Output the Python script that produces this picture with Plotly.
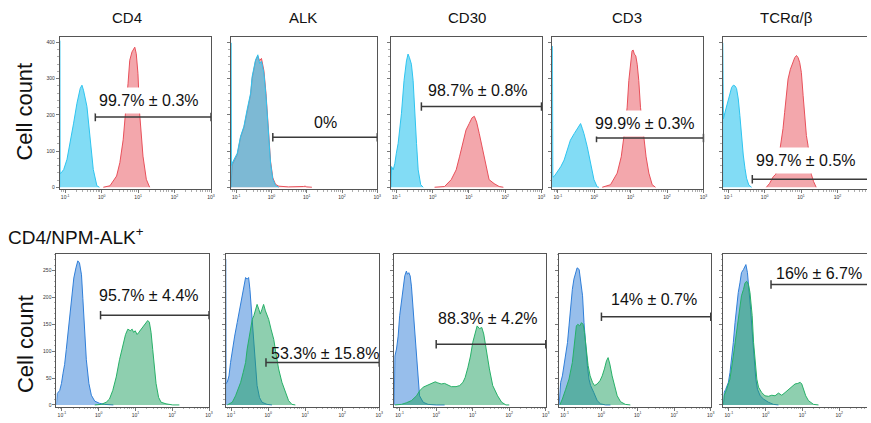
import plotly.graph_objects as go

W, H = 871, 423

# ---------------- data (fluorescence intensity, cell count) ----------------
markers = ["CD4", "ALK", "CD30", "CD3", "TCRα/β"]
row2_label = "CD4/NPM-ALK<sup>+</sup>"
y_title = "Cell count"

top_pct = ["99.7% ± 0.3%", "0%", "98.7% ± 0.8%", "99.9% ± 0.3%", "99.7% ± 0.5%"]
bot_pct = ["95.7% ± 4.4%", "53.3% ± 15.8%", "88.3% ± 4.2%", "14% ± 0.7%", "16% ± 6.7%"]

# gate start (intensity) and drawing level (count)
top_gate_start = [0.67, 1.09, 0.49, 1.15, 0.46]
top_gate_level = [194, 138, 223, 136, 22]
bot_gate_start = [1.12, 0.87, 1.0, 1.02, 1.40]
bot_gate_level = [167, 79, 113, 164, 224]
gate_end = 1000

# --- top row: control (cyan) / stained (red)
cd4_t_ctrl_x = [0.0708, 0.0708, 0.072, 0.078, 0.091, 0.112, 0.138, 0.170, 0.210, 0.258, 0.288, 0.318, 0.395, 0.48, 0.59, 0.74, 0.87]
cd4_t_ctrl_y = [0, 405, 38, 40, 49, 77, 122, 177, 232, 273, 282, 268, 223, 132, 49, 4, 0]
cd4_t_pos_x = [1.11, 1.69, 2.57, 3.16, 3.89, 4.6, 5.3, 5.9, 6.8, 8.1, 8.9, 9.9, 11, 13.6, 16.8, 20.7]
cd4_t_pos_y = [0, 4, 31, 68, 131, 205, 287, 351, 374, 387, 369, 314, 205, 86, 22, 0]

alk_t_ctrl_x = [0.0708, 0.0708, 0.0725, 0.077, 0.107, 0.133, 0.165, 0.204, 0.256, 0.283, 0.316, 0.354, 0.41, 0.46, 0.52, 0.61, 0.70, 0.80, 0.94, 1.09, 1.30, 1.61]
alk_t_ctrl_y = [0, 399, 60, 67, 94, 141, 168, 215, 260, 306, 334, 352, 366, 342, 348, 315, 251, 159, 67, 22, 5, 0]
alk_t_pos_x = [0.0708, 0.077, 0.107, 0.133, 0.165, 0.204, 0.256, 0.283, 0.316, 0.354, 0.41, 0.46, 0.52, 0.61, 0.70, 0.80, 0.94, 1.09, 1.30, 1.61, 2.2, 3.0, 8.0, 9.0, 10.0, 14]
alk_t_pos_y = [0, 62, 90, 138, 165, 210, 255, 300, 330, 350, 362, 350, 356, 322, 258, 165, 72, 26, 8, 3, 2, 1, 2, 3, 1, 0]

cd30_t_ctrl_x = [0.0708, 0.074, 0.082, 0.091, 0.10, 0.112, 0.138, 0.163, 0.19, 0.21, 0.23, 0.26, 0.29, 0.32, 0.36, 0.40, 0.47, 0.55]
cd30_t_ctrl_y = [0, 57, 48, 66, 94, 121, 203, 295, 349, 368, 358, 340, 295, 203, 121, 48, 7, 0]
cd30_t_pos_x = [1.13, 2.13, 3.25, 4.45, 5.5, 6.8, 8.3, 10.2, 12.2, 14.1, 16.3, 19.3, 23.8, 29.4, 36, 49.5, 68, 89]
cd30_t_pos_y = [0, 2, 21, 48, 84, 121, 158, 176, 192, 196, 180, 148, 103, 57, 21, 10, 2, 0]

cd3_t_ctrl_x = [0.0708, 0.0708, 0.0725, 0.079, 0.098, 0.12, 0.148, 0.18, 0.22, 0.28, 0.34, 0.42, 0.47, 0.52, 0.64, 0.79, 0.98, 1.2, 1.34]
cd3_t_ctrl_y = [0, 390, 28, 30, 43, 57, 75, 103, 130, 148, 162, 176, 162, 148, 112, 66, 21, 1, 0]
cd3_t_pos_x = [1.65, 2.79, 4.26, 5.5, 6.5, 8.0, 8.9, 9.8, 10.9, 11.7, 12.6, 13.8, 15.1, 16.7, 18.6, 23, 26.5, 31.6, 39, 48]
cd3_t_pos_y = [0, 7, 39, 84, 139, 221, 295, 340, 377, 379, 368, 363, 340, 295, 221, 139, 84, 39, 7, 0]

tcr_t_ctrl_x = [0.0708, 0.0708, 0.072, 0.074, 0.082, 0.091, 0.10, 0.112, 0.125, 0.139, 0.154, 0.17, 0.19, 0.21, 0.23, 0.26, 0.29, 0.32, 0.37, 0.44]
tcr_t_ctrl_y = [0, 399, 185, 189, 207, 226, 244, 262, 276, 282, 280, 273, 244, 198, 143, 89, 52, 25, 6, 0]
tcr_t_pos_x = [1.12, 1.38, 1.72, 2.03, 2.35, 2.76, 3.2, 3.55, 3.95, 4.4, 5.1, 5.8, 6.7, 7.5, 8.3, 9.2, 10.2, 11.4, 12.6, 14, 15.5, 17.2, 19.1, 22, 26]
tcr_t_pos_y = [0, 11, 29, 36, 70, 116, 162, 207, 253, 299, 326, 344, 358, 364, 358, 344, 317, 253, 189, 143, 116, 70, 36, 16, 0]

# --- bottom row: control (blue) / stained (green)
cd4_b_ctrl_x = [0.0708, 0.074, 0.087, 0.097, 0.107, 0.118, 0.131, 0.155, 0.18, 0.21, 0.24, 0.27, 0.30, 0.34, 0.37, 0.41, 0.46, 0.54, 0.63, 0.78, 1.05, 1.44, 1.96, 2.5]
cd4_b_ctrl_y = [0, 21, 27, 40, 59, 75, 103, 154, 198, 236, 255, 268, 264, 242, 198, 141, 84, 40, 18, 7, 3, 1, 0, 0]
cd4_b_pos_x = [0.78, 1.17, 1.60, 1.96, 2.41, 2.99, 3.67, 4.52, 5.36, 6.2, 7.2, 8.1, 8.9, 9.8, 11.1, 12.3, 14.2, 16.5, 18.6, 21.5, 23.8, 26.5, 29.4, 32.6, 36.2, 42.5, 49.7, 67.8, 103, 156]
cd4_b_pos_y = [0, 1, 5, 11, 27, 52, 84, 109, 131, 141, 138, 141, 135, 138, 131, 135, 141, 147, 150, 157, 154, 135, 103, 65, 40, 14, 5, 2, 0, 0]

alk_b_ctrl_x = [0.0708, 0.0708, 0.072, 0.078, 0.087, 0.096, 0.107, 0.124, 0.145, 0.17, 0.20, 0.22, 0.245, 0.27, 0.295, 0.32, 0.35, 0.39, 0.44, 0.50, 0.58, 0.68, 0.93, 1.26]
alk_b_ctrl_y = [0, 271, 40, 42, 54, 79, 104, 128, 153, 178, 203, 221, 237, 234, 237, 215, 178, 122, 73, 36, 14, 5, 1, 0]
alk_b_pos_x = [0.078, 0.107, 0.131, 0.151, 0.18, 0.21, 0.245, 0.27, 0.30, 0.33, 0.37, 0.41, 0.45, 0.50, 0.556, 0.61, 0.68, 0.75, 0.84, 0.93, 1.03, 1.19, 1.41, 1.66, 1.91, 2.35, 2.89, 3.55, 4.37, 5.4]
alk_b_pos_y = [0, 5, 17, 29, 42, 60, 79, 104, 122, 141, 159, 166, 178, 187, 178, 169, 178, 187, 175, 166, 159, 141, 122, 91, 67, 42, 23, 8, 1, 0]

cd30_b_ctrl_x = [0.0708, 0.074, 0.082, 0.091, 0.10, 0.112, 0.124, 0.138, 0.153, 0.163, 0.178, 0.194, 0.21, 0.23, 0.26, 0.29, 0.32, 0.35, 0.44, 0.60, 1.0, 1.70]
cd30_b_ctrl_y = [0, 91, 104, 128, 166, 196, 221, 240, 249, 243, 246, 240, 221, 184, 135, 85, 42, 17, 5, 1, 0, 0]
cd30_b_pos_x = [0.074, 0.112, 0.153, 0.21, 0.29, 0.35, 0.44, 0.54, 0.66, 0.82, 0.94, 1.11, 1.37, 1.70, 2.11, 2.6, 3.5, 4.4, 5.4, 6.2, 7.4, 8.7, 10, 11.6, 13.2, 15.3, 17.7, 20, 23.2, 28.6, 35.3, 48, 62, 81, 100]
cd30_b_pos_y = [0, 1, 4, 8, 17, 26, 33, 36, 39, 42, 43, 41, 39, 40, 37, 34, 34, 36, 42, 51, 70, 91, 116, 135, 147, 142, 144, 132, 104, 67, 36, 17, 5, 0, 0]

cd3_b_ctrl_x = [0.0708, 0.074, 0.078, 0.087, 0.097, 0.107, 0.12, 0.132, 0.147, 0.163, 0.18, 0.20, 0.22, 0.25, 0.275, 0.31, 0.34, 0.376, 0.42, 0.465, 0.515, 0.63, 0.78, 0.96, 1.32, 1.80]
cd3_b_ctrl_y = [0, 36, 42, 54, 73, 91, 116, 147, 184, 215, 234, 246, 255, 252, 234, 203, 153, 110, 73, 48, 36, 23, 8, 2, 0, 0]
cd3_b_pos_x = [0.074, 0.087, 0.107, 0.132, 0.163, 0.18, 0.20, 0.21, 0.23, 0.26, 0.29, 0.32, 0.35, 0.39, 0.44, 0.50, 0.58, 0.66, 0.78, 0.93, 1.07, 1.23, 1.40, 1.55, 1.73, 2.0, 2.32, 2.75, 3.4, 4.6, 6.3]
cd3_b_pos_y = [0, 11, 29, 48, 79, 104, 128, 147, 150, 147, 153, 150, 135, 104, 73, 54, 42, 36, 39, 45, 54, 67, 82, 88, 76, 54, 36, 17, 6, 1, 0]

tcr_b_ctrl_x = [0.0708, 0.074, 0.082, 0.097, 0.107, 0.12, 0.132, 0.147, 0.163, 0.18, 0.20, 0.22, 0.25, 0.275, 0.29, 0.32, 0.35, 0.39, 0.44, 0.48, 0.54, 0.60, 0.71, 0.87, 1.19, 1.63, 2.23]
tcr_b_ctrl_y = [0, 23, 29, 42, 60, 85, 116, 153, 184, 209, 227, 246, 252, 258, 261, 246, 221, 178, 128, 85, 48, 29, 17, 11, 5, 1, 0]
tcr_b_pos_x = [0.0708, 0.074, 0.087, 0.107, 0.132, 0.163, 0.18, 0.20, 0.22, 0.25, 0.275, 0.305, 0.34, 0.375, 0.43, 0.47, 0.52, 0.575, 0.64, 0.78, 0.96, 1.19, 1.47, 1.80, 2.23, 2.74, 3.37, 4.17, 5.1, 6.3, 7.5, 8.7, 9.6, 10.6, 12.3, 14.6, 20, 27.4]
tcr_b_pos_y = [0, 17, 29, 48, 91, 135, 159, 184, 203, 215, 227, 230, 224, 209, 166, 116, 73, 48, 33, 23, 17, 16, 18, 17, 22, 18, 23, 29, 34, 39, 40, 42, 39, 29, 17, 8, 1, 0]

top_ctrl = [(cd4_t_ctrl_x, cd4_t_ctrl_y), (alk_t_ctrl_x, alk_t_ctrl_y), (cd30_t_ctrl_x, cd30_t_ctrl_y), (cd3_t_ctrl_x, cd3_t_ctrl_y), (tcr_t_ctrl_x, tcr_t_ctrl_y)]
top_pos = [(cd4_t_pos_x, cd4_t_pos_y), (alk_t_pos_x, alk_t_pos_y), (cd30_t_pos_x, cd30_t_pos_y), (cd3_t_pos_x, cd3_t_pos_y), (tcr_t_pos_x, tcr_t_pos_y)]
bot_ctrl = [(cd4_b_ctrl_x, cd4_b_ctrl_y), (alk_b_ctrl_x, alk_b_ctrl_y), (cd30_b_ctrl_x, cd30_b_ctrl_y), (cd3_b_ctrl_x, cd3_b_ctrl_y), (tcr_b_ctrl_x, tcr_b_ctrl_y)]
bot_pos = [(cd4_b_pos_x, cd4_b_pos_y), (alk_b_pos_x, alk_b_pos_y), (cd30_b_pos_x, cd30_b_pos_y), (cd3_b_pos_x, cd3_b_pos_y), (tcr_b_pos_x, tcr_b_pos_y)]

# ---------------- layout (pixels) ----------------
top_px_x = [(60, 212), (232, 379), (392.7, 544), (555, 706.7), (726, 871)]
bot_px_x = [(56.7, 210), (226.7, 381), (396, 548.3), (561.7, 714), (726.7, 871)]
top_px_y = (37.5, 189.5)
bot_px_y = (255, 407.5)
top_yrange = [-5, 414]
bot_yrange = [-3, 280]
xlo = -1.15
top_lbl_pos = [(1.31, 239), (1.53, 178), (1.26, 267), (1.40, 177), (1.145, 74)]
bot_lbl_pos = [(1.36, 204), (1.54, 96), (1.41, 161), (1.44, 196), (1.44, 245)]
title_px = [(128, 18), (304, 18), (469, 18), (630, 18), (790, 18)]

FONT = "Liberation Sans, Arial, Helvetica, sans-serif"
CYAN, CYAN_F = "#2ec4ef", "rgba(46,196,239,0.6)"
RED, RED_F = "#e8505a", "rgba(232,80,90,0.5)"
BLUE, BLUE_F = "#2f7ed8", "rgba(47,126,216,0.5)"
GREEN, GREEN_F = "#27b068", "rgba(30,160,95,0.5)"
FRAME = "#555555"

fig = go.Figure()
annotations = []

decades = [0.1, 1, 10, 100, 1000]
dec_txt = ["10<sup>-1</sup>", "10<sup>0</sup>", "10<sup>1</sup>", "10<sup>2</sup>", "10<sup>3</sup>"]
minor_vals = [m * d for d in [0.01, 0.1, 1, 10, 100] for m in range(2, 10)]

layout_axes = {}
for row in range(2):
    for i in range(5):
        k = row * 5 + i + 1
        xs = "" if k == 1 else str(k)
        xname, yname = "x" + xs, "y" + xs
        px_x = (top_px_x if row == 0 else bot_px_x)[i]
        px_y = top_px_y if row == 0 else bot_px_y
        last = i == 4
        w = (px_x[1] - px_x[0])
        xhi = 3.0
        if last:
            ref_w = (top_px_x if row == 0 else bot_px_x)[0]
            per_dec = (ref_w[1] - ref_w[0]) / (3.0 - xlo)
            xhi = xlo + w / per_dec
        layout_axes["xaxis" + xs] = dict(
            domain=[px_x[0] / W, px_x[1] / W], type="log", range=[xlo, xhi],
            anchor=yname, showline=True, linecolor=FRAME, linewidth=1, mirror=True,
            ticks="outside", ticklen=3, tickwidth=0.8, tickcolor=FRAME,
            tickvals=decades, ticktext=dec_txt, tickfont=dict(size=5, color="#333", family=FONT),
            minor=dict(ticks="outside", ticklen=1.5, tickwidth=0.6, tickcolor="#777", tickvals=minor_vals),
            showgrid=False, zeroline=False, fixedrange=True)
        show_lbl = (i == 0)
        layout_axes["yaxis" + xs] = dict(
            domain=[1 - px_y[1] / H, 1 - px_y[0] / H],
            range=top_yrange if row == 0 else bot_yrange,
            anchor=xname, showline=True, linecolor=FRAME, linewidth=1,
            mirror=False if last else True,
            ticks="outside", ticklen=3, tickwidth=0.8, tickcolor=FRAME,
            dtick=100 if row == 0 else 50, tick0=0,
            minor=dict(ticks="outside", ticklen=1.5, tickwidth=0.6, tickcolor="#777",
                       dtick=20 if row == 0 else 10),
            showticklabels=show_lbl, tickfont=dict(size=5, color="#333", family=FONT),
            showgrid=False, zeroline=False, fixedrange=True)

        ctrl = (top_ctrl if row == 0 else bot_ctrl)[i]
        pos = (top_pos if row == 0 else bot_pos)[i]
        if row == 0:
            order = [(pos, RED, RED_F), (ctrl, CYAN, CYAN_F)]
        else:
            order = [(ctrl, BLUE, BLUE_F), (pos, GREEN, GREEN_F)]
        for (xv, yv), lc, fc in order:
            fig.add_trace(go.Scatter(x=xv, y=yv, xaxis=xname, yaxis=yname, mode="lines",
                                     line=dict(color=lc, width=1), fill="tozeroy",
                                     fillcolor=fc, hoverinfo="skip", showlegend=False))
        gs = (top_gate_start if row == 0 else bot_gate_start)[i]
        gl = (top_gate_level if row == 0 else bot_gate_level)[i]
        fig.add_trace(go.Scatter(x=[gs, gate_end], y=[gl, gl], xaxis=xname, yaxis=yname,
                                 mode="lines+markers", line=dict(color="#3a3a3a", width=1.5),
                                 marker=dict(symbol="line-ns", size=6,
                                             line=dict(color="#3a3a3a", width=1.5)),
                                 cliponaxis=last, hoverinfo="skip", showlegend=False))
        lx, ly = (top_lbl_pos if row == 0 else bot_lbl_pos)[i]
        annotations.append(dict(
            x=lx, y=ly, xref=xname, yref=yname, text=(top_pct if row == 0 else bot_pct)[i],
            showarrow=False, font=dict(size=16, color="#111", family=FONT),
            bgcolor="white" if row == 0 else "rgba(0,0,0,0)", borderpad=4,
            xanchor="center", yanchor="middle"))

for name, (tx, ty) in zip(markers, title_px):
    annotations.append(dict(x=tx / W, y=1 - ty / H, xref="paper", yref="paper", text=name,
                            showarrow=False, font=dict(size=15, color="#111", family=FONT),
                            xanchor="center", yanchor="middle"))
for cy in (112, 345):
    annotations.append(dict(x=25 / W, y=1 - cy / H, xref="paper", yref="paper", text=y_title,
                            textangle=-90, showarrow=False,
                            font=dict(size=22, color="#111", family=FONT),
                            xanchor="center", yanchor="middle"))
annotations.append(dict(x=6 / W, y=1 - 237 / H, xref="paper", yref="paper", text=row2_label,
                        showarrow=False, font=dict(size=19, color="#111", family=FONT),
                        xanchor="left", yanchor="middle"))

fig.update_layout(width=W, height=H, margin=dict(l=0, r=0, t=0, b=0),
                  paper_bgcolor="white", plot_bgcolor="white",
                  annotations=annotations, **layout_axes)

fig.write_html("out.html", config={"displayModeBar": False, "staticPlot": True},
               post_script="document.body.style.margin='0';document.body.style.overflow='hidden';")
